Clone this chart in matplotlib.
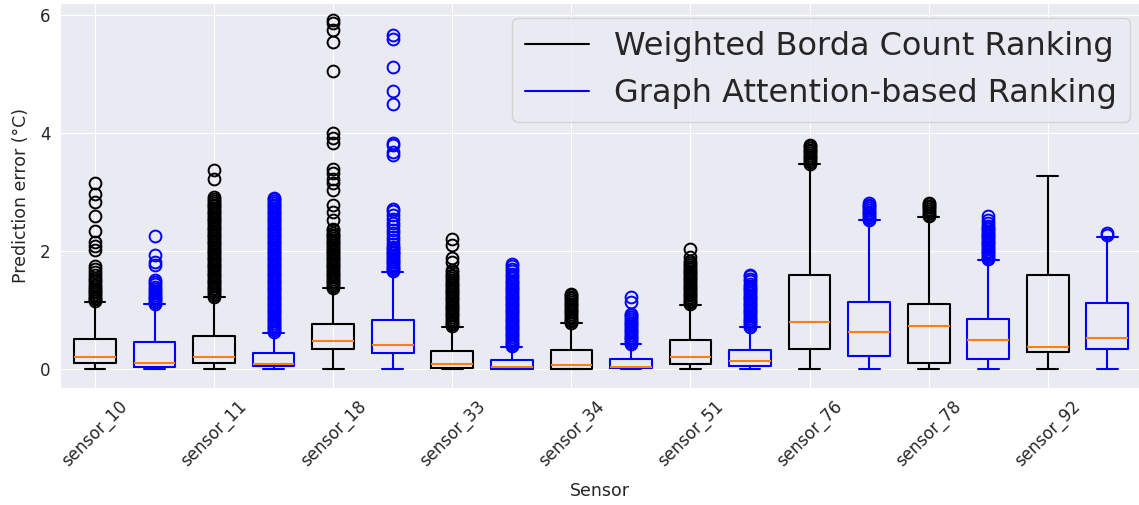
import matplotlib
matplotlib.use("Agg")
import matplotlib.pyplot as plt
import seaborn as sns
from matplotlib.lines import Line2D
import numpy as np

sns.set_style("darkgrid")
plt.rcParams["font.family"] = ["DejaVu Sans"]

sensors = ["sensor_10", "sensor_11", "sensor_18", "sensor_33", "sensor_34",
           "sensor_51", "sensor_76", "sensor_78", "sensor_92"]
series_names = ["Weighted Borda Count Ranking", "Graph Attention-based Ranking"]

# Weighted Borda Count Ranking (black)
wbc_whislo = [0, 0, 0, 0, 0, 0, 0, 0, 0]
wbc_q1 = [0.10, 0.11, 0.34, 0.02, 0.01, 0.09, 0.34, 0.11, 0.29]
wbc_med = [0.21, 0.20, 0.475, 0.085, 0.073, 0.20, 0.80, 0.73, 0.373]
wbc_q3 = [0.51, 0.56, 0.76, 0.305, 0.32, 0.49, 1.59, 1.10, 1.59]
wbc_whishi = [1.14, 1.22, 1.37, 0.72, 0.775, 1.09, 3.47, 2.58, 3.27]
wbc_fliers = [
    [1.15, 1.18, 1.21, 1.24, 1.27, 1.30, 1.33, 1.36, 1.40, 1.43, 1.47, 1.51,
     1.55, 1.60, 1.65, 1.70, 1.75, 2.02, 2.08, 2.16, 2.34, 2.60, 2.84, 2.96, 3.16],
    [1.23, 1.26, 1.29, 1.32, 1.35, 1.38, 1.41, 1.44, 1.47, 1.50, 1.53, 1.56,
     1.59, 1.62, 1.65, 1.68, 1.71, 1.74, 1.77, 1.80, 1.83, 1.86, 1.89, 1.92,
     1.95, 1.98, 2.01, 2.04, 2.07, 2.10, 2.13, 2.16, 2.19, 2.22, 2.25, 2.28,
     2.31, 2.34, 2.37, 2.40, 2.43, 2.46, 2.49, 2.52, 2.55, 2.58, 2.61, 2.64,
     2.67, 2.70, 2.73, 2.76, 2.79, 2.82, 2.85, 2.88, 2.91, 3.22, 3.37],
    [1.38, 1.41, 1.44, 1.47, 1.50, 1.53, 1.56, 1.59, 1.62, 1.65, 1.68, 1.71,
     1.74, 1.77, 1.80, 1.83, 1.86, 1.89, 1.92, 1.95, 1.98, 2.01, 2.04, 2.07,
     2.10, 2.13, 2.16, 2.19, 2.22, 2.25, 2.28, 2.31, 2.35, 2.38, 2.53, 2.67,
     2.78, 3.03, 3.15, 3.23, 3.32, 3.40, 3.83, 3.91, 4.00, 5.06, 5.54, 5.75,
     5.86, 5.92],
    [0.73, 0.76, 0.79, 0.82, 0.85, 0.88, 0.91, 0.94, 0.97, 1.00, 1.03, 1.06,
     1.09, 1.12, 1.15, 1.18, 1.21, 1.24, 1.27, 1.30, 1.33, 1.36, 1.39, 1.42,
     1.45, 1.48, 1.51, 1.54, 1.57, 1.60, 1.64, 1.68, 1.82, 1.88, 2.10, 2.20],
    [0.78, 0.81, 0.84, 0.87, 0.90, 0.93, 0.96, 0.99, 1.02, 1.05, 1.08, 1.11,
     1.14, 1.17, 1.20, 1.23, 1.26, 1.28],
    [1.10, 1.13, 1.16, 1.19, 1.22, 1.25, 1.28, 1.31, 1.34, 1.37, 1.40, 1.43,
     1.46, 1.49, 1.52, 1.55, 1.58, 1.61, 1.64, 1.67, 1.70, 1.73, 1.76, 1.80,
     1.84, 1.90, 2.03],
    [3.48, 3.51, 3.54, 3.57, 3.60, 3.63, 3.66, 3.69, 3.72, 3.75, 3.78, 3.80],
    [2.59, 2.62, 2.65, 2.68, 2.71, 2.74, 2.77, 2.80, 2.82],
    [],
]

# Graph Attention-based Ranking (blue)
gat_whislo = [0, 0, 0, 0, 0, 0, 0, 0, 0]
gat_q1 = [0.034, 0.05, 0.266, 0.01, 0.017, 0.045, 0.22, 0.175, 0.345]
gat_med = [0.107, 0.09, 0.407, 0.034, 0.034, 0.13, 0.627, 0.486, 0.53]
gat_q3 = [0.46, 0.28, 0.825, 0.158, 0.175, 0.316, 1.14, 0.847, 1.12]
gat_whishi = [1.107, 0.615, 1.65, 0.38, 0.424, 0.71, 2.52, 1.85, 2.24]
gat_fliers = [
    [1.11, 1.14, 1.17, 1.20, 1.23, 1.26, 1.29, 1.32, 1.36, 1.40, 1.44, 1.48,
     1.51, 1.76, 1.82, 1.93, 2.26],
    [0.63, 0.66, 0.69, 0.72, 0.75, 0.78, 0.81, 0.84, 0.87, 0.90, 0.93, 0.96,
     0.99, 1.02, 1.05, 1.08, 1.11, 1.14, 1.17, 1.20, 1.23, 1.26, 1.29, 1.32,
     1.35, 1.38, 1.41, 1.44, 1.47, 1.50, 1.53, 1.56, 1.59, 1.62, 1.65, 1.68,
     1.71, 1.74, 1.77, 1.80, 1.83, 1.86, 1.89, 1.92, 1.95, 1.98, 2.01, 2.04,
     2.07, 2.10, 2.13, 2.16, 2.19, 2.22, 2.25, 2.28, 2.31, 2.34, 2.37, 2.40,
     2.43, 2.46, 2.49, 2.52, 2.55, 2.58, 2.61, 2.64, 2.67, 2.70, 2.73, 2.76,
     2.79, 2.82, 2.85, 2.88, 2.90],
    [1.66, 1.69, 1.72, 1.75, 1.78, 1.81, 1.84, 1.87, 1.90, 1.93, 1.96, 1.99,
     2.02, 2.05, 2.07, 2.12, 2.18, 2.24, 2.30, 2.36, 2.42, 2.48, 2.55, 2.62,
     2.68, 2.72, 3.63, 3.68, 3.80, 3.83, 4.50, 4.71, 5.12, 5.60, 5.67],
    [0.39, 0.42, 0.45, 0.48, 0.51, 0.54, 0.57, 0.60, 0.63, 0.66, 0.69, 0.72,
     0.75, 0.78, 0.81, 0.84, 0.87, 0.90, 0.93, 0.96, 0.99, 1.02, 1.05, 1.08,
     1.11, 1.14, 1.17, 1.20, 1.23, 1.26, 1.29, 1.32, 1.35, 1.38, 1.41, 1.44,
     1.47, 1.50, 1.54, 1.58, 1.62, 1.66, 1.70, 1.74, 1.78],
    [0.43, 0.46, 0.49, 0.52, 0.55, 0.58, 0.61, 0.64, 0.67, 0.70, 0.73, 0.76,
     0.79, 0.82, 0.85, 0.88, 0.91, 0.93, 1.14, 1.22],
    [0.72, 0.75, 0.78, 0.81, 0.84, 0.87, 0.90, 0.93, 0.96, 0.99, 1.02, 1.05,
     1.08, 1.11, 1.14, 1.17, 1.20, 1.23, 1.26, 1.29, 1.32, 1.35, 1.38, 1.41,
     1.45, 1.49, 1.53, 1.57, 1.60],
    [2.52, 2.55, 2.58, 2.61, 2.64, 2.67, 2.70, 2.73, 2.76, 2.79, 2.82],
    [1.86, 1.89, 1.92, 1.95, 1.98, 2.01, 2.04, 2.07, 2.10, 2.13, 2.16, 2.19,
     2.22, 2.25, 2.28, 2.31, 2.34, 2.37, 2.40, 2.42, 2.48, 2.52, 2.60],
    [2.28, 2.30],
]

colors = ["black", "blue"]
median_color = "#ff7f0e"

W, H = 1139, 505
fig = plt.figure(figsize=(W / 100, H / 100), dpi=100)
ax = fig.add_axes([60 / W, 1 - 388 / H, 1 - 60 / W, (388 - 3.3) / H])


def make_stats(whislo, q1, med, q3, whishi, fliers):
    return [dict(whislo=a, q1=b, med=c, q3=d, whishi=e, fliers=f)
            for a, b, c, d, e, f in zip(whislo, q1, med, q3, whishi, fliers)]


groups = [
    make_stats(wbc_whislo, wbc_q1, wbc_med, wbc_q3, wbc_whishi, wbc_fliers),
    make_stats(gat_whislo, gat_q1, gat_med, gat_q3, gat_whishi, gat_fliers),
]
base = np.arange(len(sensors))
offsets = [0.0, 0.5]

for stats, col, off in zip(groups, colors, offsets):
    ax.bxp(stats, positions=base + off, widths=0.35, manage_ticks=False,
           boxprops=dict(color=col, linewidth=1.5),
           whiskerprops=dict(color=col, linewidth=1.5),
           capprops=dict(color=col, linewidth=1.5),
           medianprops=dict(color=median_color, linewidth=1.5),
           flierprops=dict(marker="o", markerfacecolor="none",
                           markeredgecolor=col, markersize=8.5,
                           markeredgewidth=1.4))

ax.set_xlim(-0.294, 8.766)
ax.set_ylim(-0.32, 6.2)
ax.set_xticks(base)
ax.set_xticklabels(sensors, rotation=45, fontsize=12)
ax.set_yticks([0, 2, 4, 6])
ax.tick_params(axis="y", labelsize=12)
ax.set_xlabel("Sensor", fontsize=12.5, labelpad=8)
ax.set_ylabel("Prediction error (°C)", fontsize=12.5, labelpad=7)

handles = [Line2D([0], [0], color=c, linewidth=1.5) for c in colors]
ax.legend(handles, series_names, fontsize=23, loc="upper right",
          bbox_to_anchor=(1130 / W, 1 - 18 / H), bbox_transform=fig.transFigure,
          borderaxespad=0)

fig.savefig("out.png", dpi=100)
